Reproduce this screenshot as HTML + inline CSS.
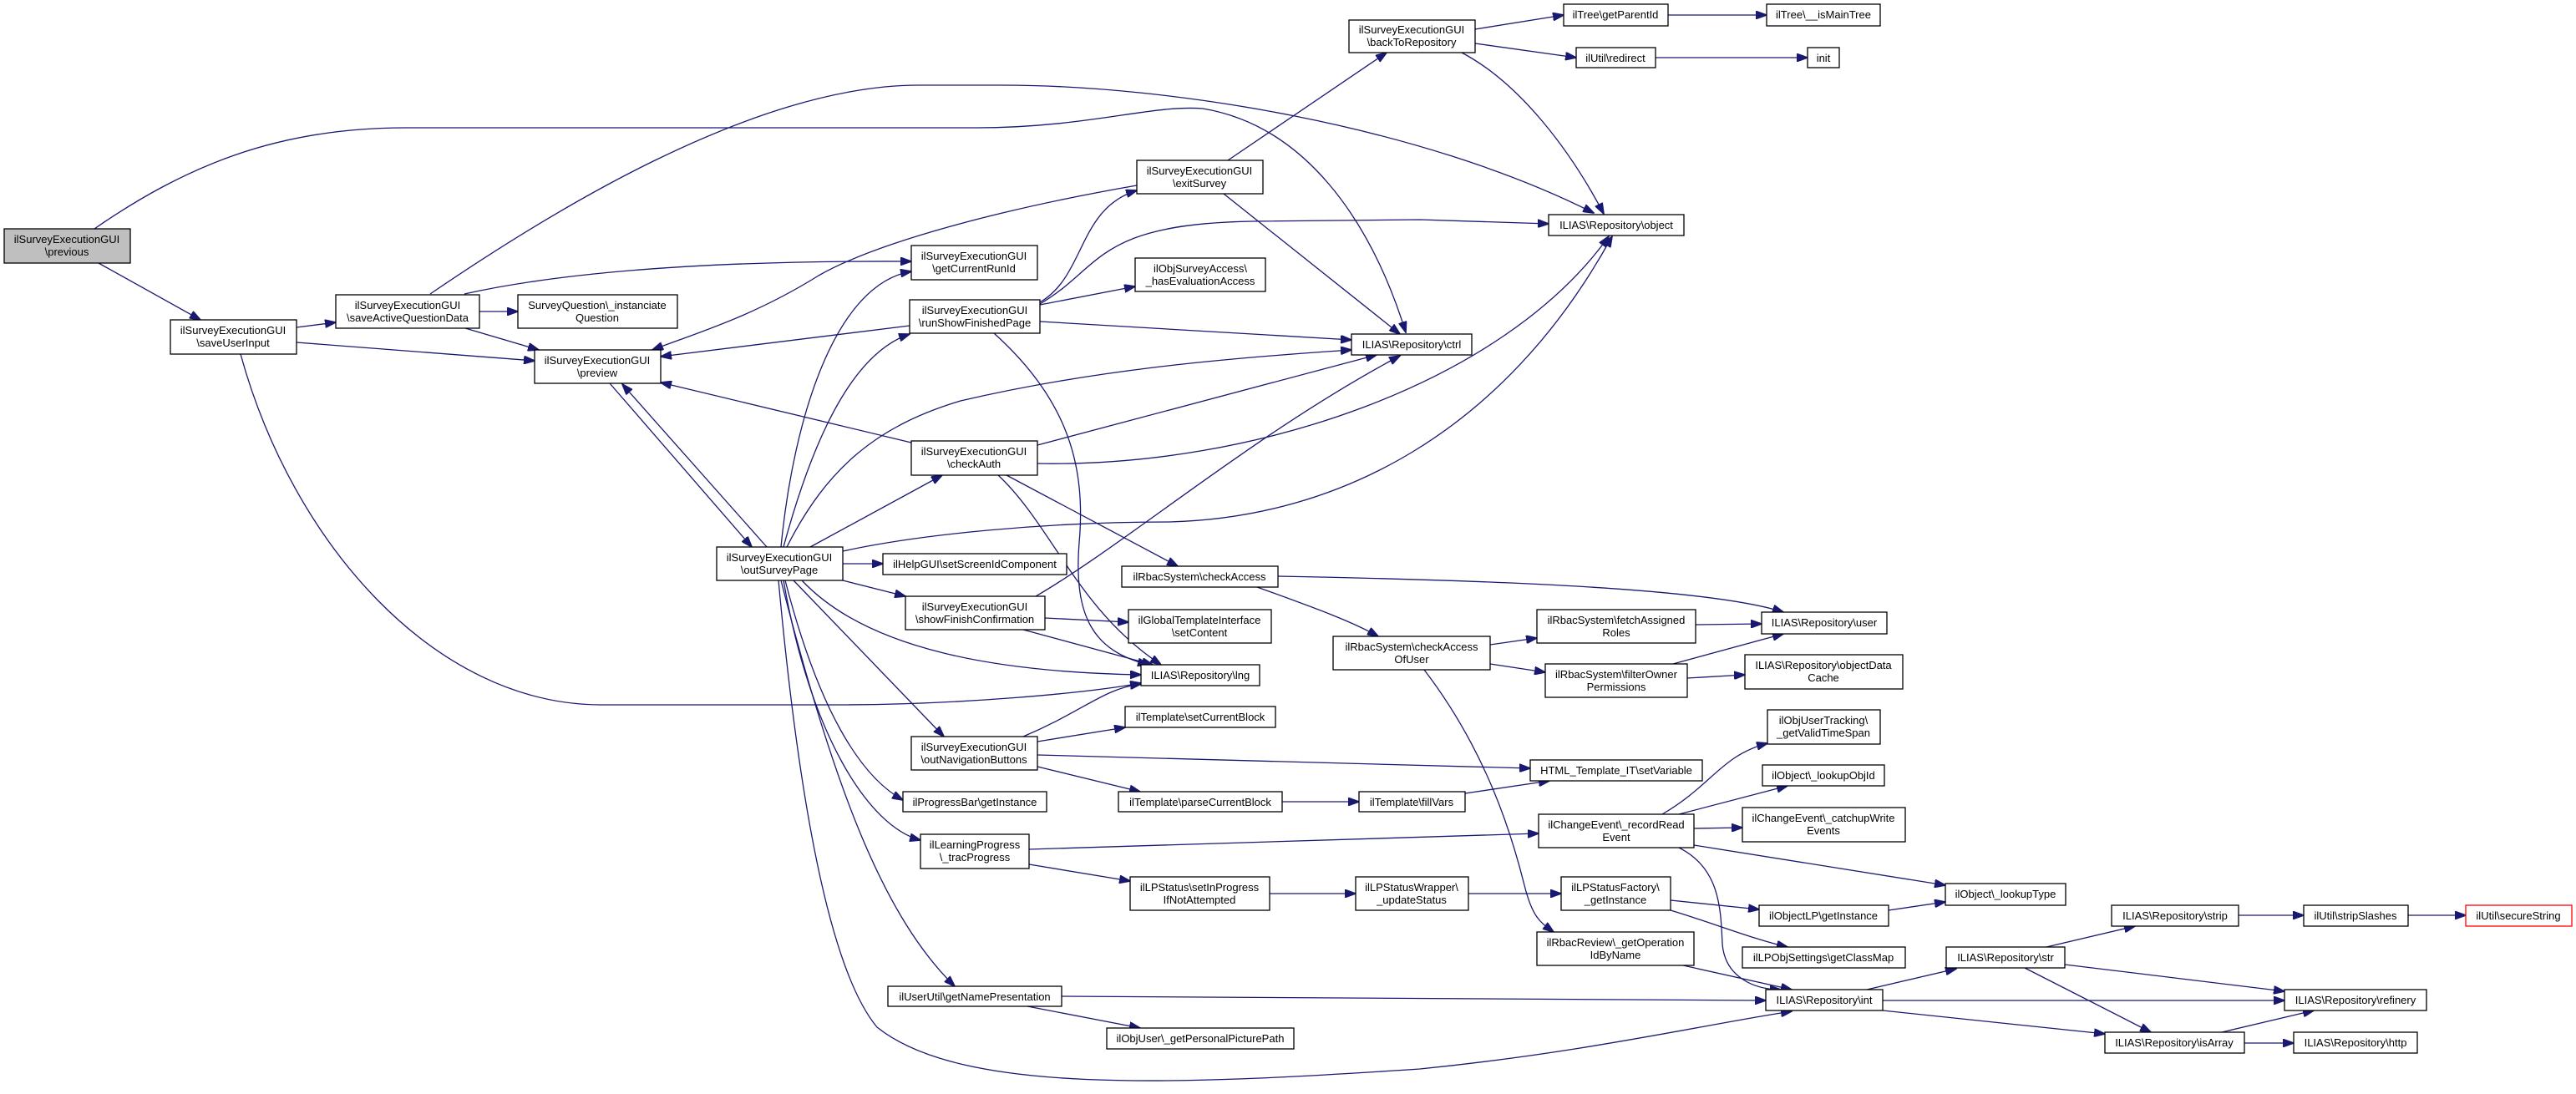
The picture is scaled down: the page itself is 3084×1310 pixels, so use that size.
<!DOCTYPE html>
<html><head><meta charset="utf-8"><style>
html,body{margin:0;padding:0;background:#fff;}
svg{display:block;}
text{font-family:"Liberation Sans",Arial,sans-serif;font-size:13px;fill:#000;text-anchor:middle;}
.n{fill:#fff;stroke:#000;stroke-width:1.3;}
.e{fill:none;stroke:#191970;stroke-width:1.3;}
</style></head><body>
<svg width="3084" height="1310" viewBox="0 0 3084 1310" xmlns="http://www.w3.org/2000/svg">
<defs><marker id="a" markerWidth="14" markerHeight="10" refX="13" refY="5" orient="auto" markerUnits="userSpaceOnUse"><path d="M0,0 L14,5 L0,10 z" fill="#191970" stroke="#191970"/></marker></defs>
<g marker-end="url(#a)">
<path class="e" d="M118,315 L240,383"/>
<path class="e" d="M113,274 C220,200 330,153 485,153 L1170,153 C1300,153 1380,125 1440,130 C1560,150 1640,260 1683,398"/>
<path class="e" d="M515,352 C650,260 900,102 1100,102 L1200,102 C1400,102 1700,150 1908,255"/>
<path class="e" d="M355,392 L402,386"/>
<path class="e" d="M355,410 L640,432"/>
<path class="e" d="M288,424 C350,650 520,844 720,844 L1000,844 C1150,844 1300,830 1366,818"/>
<path class="e" d="M574,373 L620,373"/>
<path class="e" d="M557,393 L645,419"/>
<path class="e" d="M556,352 C700,320 900,312 1091,313"/>
<path class="e" d="M730,459 L900,655"/>
<path class="e" d="M918,655 L745,460"/>
<path class="e" d="M1089,390 L791,427"/>
<path class="e" d="M1091,530 L791,458"/>
<path class="e" d="M1361,222 C1200,250 1050,290 980,330 C900,380 830,400 781,419"/>
<path class="e" d="M935,655 C950,500 1000,340 1091,325"/>
<path class="e" d="M938,655 C980,500 1030,420 1089,400"/>
<path class="e" d="M942,655 C990,560 1050,510 1150,480 C1300,445 1450,430 1618,419"/>
<path class="e" d="M970,655 L1128,569"/>
<path class="e" d="M1009,660 C1100,640 1250,625 1400,625 C1600,620 1800,520 1930,283"/>
<path class="e" d="M1009,675 L1057,675"/>
<path class="e" d="M1009,695 L1084,714"/>
<path class="e" d="M960,695 C1040,780 1200,805 1366,808"/>
<path class="e" d="M950,695 L1130,882"/>
<path class="e" d="M940,695 C980,850 1030,930 1081,958"/>
<path class="e" d="M938,695 C970,880 1040,990 1102,1006"/>
<path class="e" d="M935,695 C1000,950 1060,1100 1143,1181"/>
<path class="e" d="M932,695 C960,1000 1000,1170 1050,1230 C1150,1310 1400,1300 1700,1280 C1900,1260 2050,1225 2145,1211"/>
<path class="e" d="M1271,1193 L2114,1198"/>
<path class="e" d="M1230,1205 L1365,1231"/>
<path class="e" d="M1245,362 C1300,330 1290,250 1361,228"/>
<path class="e" d="M1245,364 C1320,320 1310,268 1500,265 L1700,263 L1854,268"/>
<path class="e" d="M1245,365 L1359,343"/>
<path class="e" d="M1245,385 L1618,407"/>
<path class="e" d="M1190,399 C1280,480 1300,560 1292,650 C1285,740 1310,780 1375,796"/>
<path class="e" d="M1470,192 L1660,63"/>
<path class="e" d="M1465,232 L1676,400"/>
<path class="e" d="M1766,35 L1872,18"/>
<path class="e" d="M1766,52 L1887,69"/>
<path class="e" d="M1750,63 C1820,100 1880,180 1920,256"/>
<path class="e" d="M1997,18 L2115,18"/>
<path class="e" d="M1982,69 L2164,69"/>
<path class="e" d="M1242,533 L1648,425"/>
<path class="e" d="M1242,555 C1500,560 1800,460 1926,283"/>
<path class="e" d="M1195,569 C1260,630 1290,730 1390,796"/>
<path class="e" d="M1205,569 L1410,678"/>
<path class="e" d="M1240,714 C1350,650 1500,520 1676,426"/>
<path class="e" d="M1251,740 L1351,745"/>
<path class="e" d="M1225,754 L1380,796"/>
<path class="e" d="M1225,882 C1300,850 1320,825 1366,819"/>
<path class="e" d="M1242,888 L1347,871"/>
<path class="e" d="M1242,904 L1832,920"/>
<path class="e" d="M1242,918 L1365,948"/>
<path class="e" d="M1535,960 L1627,960"/>
<path class="e" d="M1754,950 L1855,935"/>
<path class="e" d="M1530,690 C1800,695 2050,705 2135,733"/>
<path class="e" d="M1505,703 C1580,730 1620,745 1650,762"/>
<path class="e" d="M1784,772 L1840,764"/>
<path class="e" d="M1784,795 L1850,805"/>
<path class="e" d="M1705,802 C1780,900 1810,1000 1825,1060 C1835,1100 1845,1105 1860,1116"/>
<path class="e" d="M2030,748 L2109,747"/>
<path class="e" d="M2003,795 L2135,759"/>
<path class="e" d="M2020,812 L2089,808"/>
<path class="e" d="M1232,1017 L1842,998"/>
<path class="e" d="M1232,1035 L1353,1055"/>
<path class="e" d="M1520,1070 L1623,1070"/>
<path class="e" d="M1758,1070 L1869,1070"/>
<path class="e" d="M2000,1078 L2106,1089"/>
<path class="e" d="M2000,1090 C2050,1105 2100,1125 2140,1134"/>
<path class="e" d="M2261,1090 L2329,1080"/>
<path class="e" d="M1990,975 C2050,940 2060,905 2116,890"/>
<path class="e" d="M2010,975 L2140,941"/>
<path class="e" d="M2028,992 L2086,991"/>
<path class="e" d="M2028,1012 L2329,1060"/>
<path class="e" d="M2010,1015 C2060,1040 2060,1090 2062,1130 C2065,1170 2100,1185 2132,1185"/>
<path class="e" d="M2015,1156 L2145,1185"/>
<path class="e" d="M2235,1185 L2342,1160"/>
<path class="e" d="M2254,1198 L2735,1198"/>
<path class="e" d="M2254,1210 L2520,1238"/>
<path class="e" d="M2450,1134 L2556,1109"/>
<path class="e" d="M2472,1155 L2735,1187"/>
<path class="e" d="M2424,1159 L2575,1236"/>
<path class="e" d="M2680,1096 L2758,1096"/>
<path class="e" d="M2883,1096 L2952,1096"/>
<path class="e" d="M2660,1236 L2770,1210"/>
<path class="e" d="M2687,1249 L2746,1249"/>
</g>
<g>
<rect x="5" y="274" width="151" height="41" fill="#bfbfbf" stroke="#000" stroke-width="1.3"/><text x="80" y="291">ilSurveyExecutionGUI</text><text x="80" y="306">\previous</text>
<rect class="n" x="204" y="383" width="151" height="41"/><text x="279" y="400">ilSurveyExecutionGUI</text><text x="279" y="415">\saveUserInput</text>
<rect class="n" x="402" y="353" width="172" height="40"/><text x="488" y="370">ilSurveyExecutionGUI</text><text x="488" y="385">\saveActiveQuestionData</text>
<rect class="n" x="620" y="353" width="191" height="40"/><text x="715" y="370">SurveyQuestion\_instanciate</text><text x="715" y="385">Question</text>
<rect class="n" x="640" y="419" width="151" height="40"/><text x="715" y="436">ilSurveyExecutionGUI</text><text x="715" y="451">\preview</text>
<rect class="n" x="858" y="655" width="151" height="40"/><text x="933" y="672">ilSurveyExecutionGUI</text><text x="933" y="687">\outSurveyPage</text>
<rect class="n" x="1091" y="294" width="151" height="41"/><text x="1166" y="311">ilSurveyExecutionGUI</text><text x="1166" y="326">\getCurrentRunId</text>
<rect class="n" x="1089" y="359" width="156" height="40"/><text x="1167" y="376">ilSurveyExecutionGUI</text><text x="1167" y="391">\runShowFinishedPage</text>
<rect class="n" x="1091" y="528" width="151" height="41"/><text x="1166" y="545">ilSurveyExecutionGUI</text><text x="1166" y="560">\checkAuth</text>
<rect class="n" x="1057" y="663" width="220" height="25"/><text x="1167" y="680">ilHelpGUI\setScreenIdComponent</text>
<rect class="n" x="1084" y="714" width="167" height="40"/><text x="1167" y="731">ilSurveyExecutionGUI</text><text x="1167" y="746">\showFinishConfirmation</text>
<rect class="n" x="1091" y="882" width="151" height="40"/><text x="1166" y="899">ilSurveyExecutionGUI</text><text x="1166" y="914">\outNavigationButtons</text>
<rect class="n" x="1081" y="948" width="172" height="24"/><text x="1167" y="965">ilProgressBar\getInstance</text>
<rect class="n" x="1102" y="999" width="130" height="41"/><text x="1167" y="1016">ilLearningProgress</text><text x="1167" y="1031">\_tracProgress</text>
<rect class="n" x="1063" y="1181" width="208" height="24"/><text x="1167" y="1198">ilUserUtil\getNamePresentation</text>
<rect class="n" x="1615" y="24" width="151" height="39"/><text x="1690" y="40">ilSurveyExecutionGUI</text><text x="1690" y="55">\backToRepository</text>
<rect class="n" x="1872" y="5" width="125" height="26"/><text x="1934" y="22">ilTree\getParentId</text>
<rect class="n" x="2115" y="5" width="136" height="26"/><text x="2183" y="22">ilTree\__isMainTree</text>
<rect class="n" x="1887" y="57" width="95" height="24"/><text x="1934" y="74">ilUtil\redirect</text>
<rect class="n" x="2164" y="57" width="38" height="24"/><text x="2183" y="74">init</text>
<rect class="n" x="1361" y="192" width="151" height="40"/><text x="1436" y="209">ilSurveyExecutionGUI</text><text x="1436" y="224">\exitSurvey</text>
<rect class="n" x="1854" y="257" width="162" height="25"/><text x="1935" y="274">ILIAS\Repository\object</text>
<rect class="n" x="1359" y="309" width="156" height="40"/><text x="1437" y="326">ilObjSurveyAccess\</text><text x="1437" y="341">_hasEvaluationAccess</text>
<rect class="n" x="1618" y="400" width="144" height="25"/><text x="1690" y="417">ILIAS\Repository\ctrl</text>
<rect class="n" x="1343" y="678" width="187" height="25"/><text x="1436" y="695">ilRbacSystem\checkAccess</text>
<rect class="n" x="1351" y="730" width="171" height="40"/><text x="1436" y="747">ilGlobalTemplateInterface</text><text x="1436" y="762">\setContent</text>
<rect class="n" x="1366" y="796" width="142" height="25"/><text x="1437" y="813">ILIAS\Repository\lng</text>
<rect class="n" x="1596" y="762" width="188" height="40"/><text x="1690" y="779">ilRbacSystem\checkAccess</text><text x="1690" y="794">OfUser</text>
<rect class="n" x="1840" y="730" width="190" height="40"/><text x="1935" y="747">ilRbacSystem\fetchAssigned</text><text x="1935" y="762">Roles</text>
<rect class="n" x="1850" y="795" width="170" height="40"/><text x="1935" y="812">ilRbacSystem\filterOwner</text><text x="1935" y="827">Permissions</text>
<rect class="n" x="2109" y="733" width="150" height="26"/><text x="2184" y="750">ILIAS\Repository\user</text>
<rect class="n" x="2089" y="784" width="189" height="41"/><text x="2183" y="801">ILIAS\Repository\objectData</text><text x="2183" y="816">Cache</text>
<rect class="n" x="1347" y="846" width="180" height="25"/><text x="1437" y="863">ilTemplate\setCurrentBlock</text>
<rect class="n" x="1832" y="910" width="206" height="25"/><text x="1935" y="927">HTML_Template_IT\setVariable</text>
<rect class="n" x="1339" y="948" width="196" height="24"/><text x="1437" y="965">ilTemplate\parseCurrentBlock</text>
<rect class="n" x="1627" y="948" width="127" height="24"/><text x="1690" y="965">ilTemplate\fillVars</text>
<rect class="n" x="2116" y="850" width="135" height="41"/><text x="2183" y="867">ilObjUserTracking\</text><text x="2183" y="882">_getValidTimeSpan</text>
<rect class="n" x="2110" y="916" width="146" height="25"/><text x="2183" y="933">ilObject\_lookupObjId</text>
<rect class="n" x="1842" y="975" width="186" height="40"/><text x="1935" y="992">ilChangeEvent\_recordRead</text><text x="1935" y="1007">Event</text>
<rect class="n" x="2086" y="967" width="195" height="41"/><text x="2183" y="984">ilChangeEvent\_catchupWrite</text><text x="2183" y="999">Events</text>
<rect class="n" x="1353" y="1050" width="167" height="40"/><text x="1436" y="1067">ilLPStatus\setInProgress</text><text x="1436" y="1082">IfNotAttempted</text>
<rect class="n" x="1623" y="1050" width="135" height="40"/><text x="1690" y="1067">ilLPStatusWrapper\</text><text x="1690" y="1082">_updateStatus</text>
<rect class="n" x="1869" y="1050" width="131" height="40"/><text x="1934" y="1067">ilLPStatusFactory\</text><text x="1934" y="1082">_getInstance</text>
<rect class="n" x="2106" y="1084" width="155" height="25"/><text x="2183" y="1101">ilObjectLP\getInstance</text>
<rect class="n" x="2086" y="1134" width="195" height="25"/><text x="2183" y="1151">ilLPObjSettings\getClassMap</text>
<rect class="n" x="1840" y="1116" width="188" height="40"/><text x="1934" y="1133">ilRbacReview\_getOperation</text><text x="1934" y="1148">IdByName</text>
<rect class="n" x="2114" y="1185" width="140" height="25"/><text x="2184" y="1202">ILIAS\Repository\int</text>
<rect class="n" x="1325" y="1231" width="224" height="25"/><text x="1437" y="1248">ilObjUser\_getPersonalPicturePath</text>
<rect class="n" x="2329" y="1058" width="144" height="26"/><text x="2401" y="1075">ilObject\_lookupType</text>
<rect class="n" x="2528" y="1084" width="152" height="25"/><text x="2604" y="1101">ILIAS\Repository\strip</text>
<rect class="n" x="2758" y="1084" width="125" height="25"/><text x="2820" y="1101">ilUtil\stripSlashes</text>
<rect x="2952" y="1084" width="127" height="25" fill="#fff" stroke="#ff0000" stroke-width="1.3"/><text x="3015" y="1101">ilUtil\secureString</text>
<rect class="n" x="2330" y="1134" width="142" height="25"/><text x="2401" y="1151">ILIAS\Repository\str</text>
<rect class="n" x="2735" y="1185" width="170" height="25"/><text x="2820" y="1202">ILIAS\Repository\refinery</text>
<rect class="n" x="2520" y="1236" width="167" height="25"/><text x="2603" y="1253">ILIAS\Repository\isArray</text>
<rect class="n" x="2746" y="1236" width="148" height="25"/><text x="2820" y="1253">ILIAS\Repository\http</text>
</g>
</svg>
</body></html>
